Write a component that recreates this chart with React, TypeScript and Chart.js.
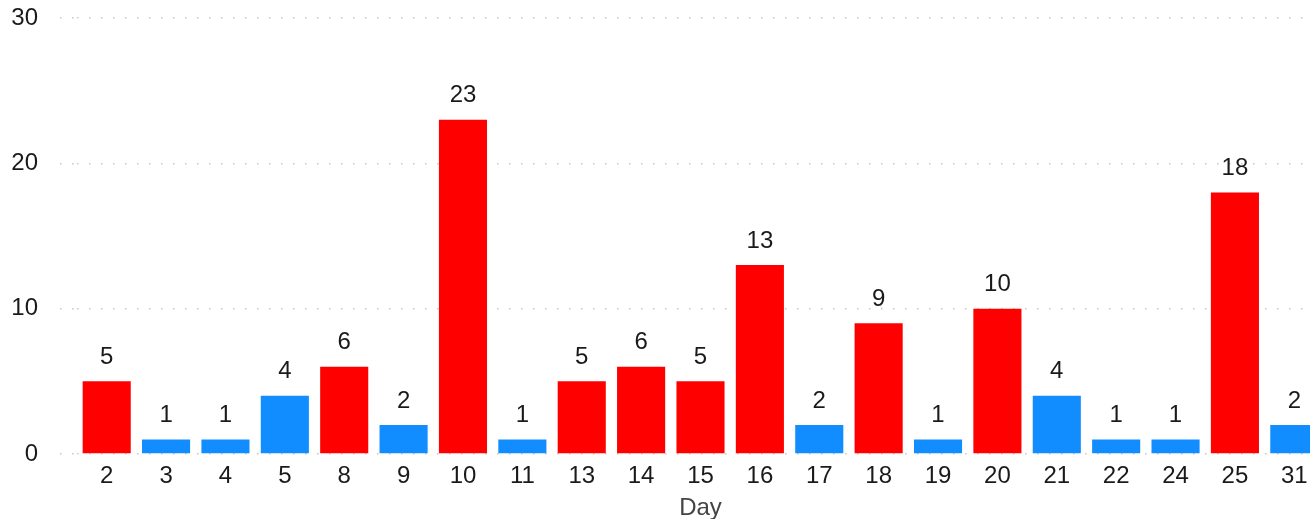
import React, { useEffect, useRef } from "react";
import { Chart, registerables } from "chart.js";

Chart.register(...registerables);

const days: string[] = ["2", "3", "4", "5", "8", "9", "10", "11", "13", "14", "15", "16", "17", "18", "19", "20", "21", "22", "24", "25", "31"];
const counts: number[] = [5, 1, 1, 4, 6, 2, 23, 1, 5, 6, 5, 13, 2, 9, 1, 10, 4, 1, 1, 18, 2];
const yTicks: number[] = [0, 10, 20, 30];
const HIGH = "#FF0000";
const LOW = "#118DFF";
const FONT = "'Liberation Sans', Arial, sans-serif";
const TEXT = "#1a1a1a";
const SIZE = 24;

const valueLabels = {
  id: "valueLabels",
  afterDatasetsDraw(chart: any) {
    const ctx = chart.ctx;
    const meta = chart.getDatasetMeta(0);
    ctx.save();
    ctx.font = `${SIZE}px ${FONT}`;
    ctx.fillStyle = TEXT;
    ctx.textAlign = "center";
    ctx.textBaseline = "middle";
    meta.data.forEach((el: any, i: number) => {
      ctx.fillText(String(counts[i]), el.x, el.y - 24);
    });
    ctx.restore();
  },
};

export default function App() {
  const ref = useRef<HTMLCanvasElement>(null);
  useEffect(() => {
    document.body.style.overflow = "hidden";
    const chart = new Chart(ref.current as HTMLCanvasElement, {
      type: "bar",
      data: {
        labels: days,
        datasets: [
          {
            data: counts,
            backgroundColor: counts.map((v) => (v >= 5 ? HIGH : LOW)),
            barPercentage: 0.81,
            categoryPercentage: 1,
          },
        ],
      },
      options: {
        responsive: false,
        animation: false,
        layout: { padding: { top: 18, left: 0, right: 0, bottom: 0 } },
        plugins: { legend: { display: false }, tooltip: { enabled: false } },
        scales: {
          x: {
            grid: { display: false, drawTicks: false },
            border: { display: false },
            ticks: { color: TEXT, font: { family: FONT, size: SIZE }, padding: 8, maxRotation: 0, autoSkip: false },
            title: { display: true, text: "Day", color: "#444", font: { family: FONT, size: SIZE }, padding: { top: 0, bottom: -4 } },
            afterFit: (s: any) => {
              s.height = 65;
              s.paddingLeft = 0;
              s.paddingRight = 0;
            },
          },
          y: {
            min: 0,
            max: 30,
            afterBuildTicks: (s: any) => {
              s.ticks = yTicks.map((v) => ({ value: v }));
            },
            grid: {
              color: "#c8c8c8",
              lineWidth: 1.5,
              drawTicks: true,
              tickLength: 17,
              tickColor: "#c8c8c8",
              tickWidth: 1.5,
              tickBorderDash: [1.5, 10.5],
            },
            border: { display: false, dash: [1.5, 10.5] },
            ticks: { color: TEXT, font: { family: FONT, size: SIZE }, padding: 22 },
            afterFit: (s: any) => {
              s.width = 77;
              s.paddingTop = 0;
              s.paddingBottom = 0;
            },
          },
        },
      },
      plugins: [valueLabels],
    });
    return () => chart.destroy();
  }, []);
  return (
    <div style={{ position: "fixed", left: 0, top: 0, width: 1310, height: 519, overflow: "hidden", background: "#fff" }}>
      <canvas ref={ref} width={1324} height={519} style={{ display: "block" }} />
    </div>
  );
}
